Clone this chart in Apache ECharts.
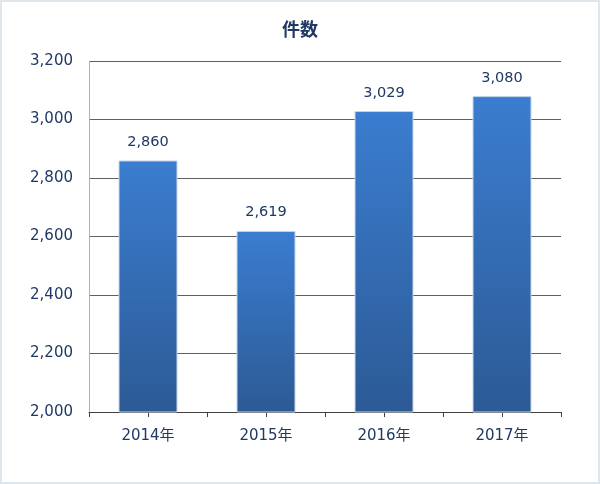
<!DOCTYPE html>
<html><head><meta charset="utf-8">
<script src="https://cdn.jsdelivr.net/npm/echarts@6/dist/echarts.min.js"></script>
<style>html,body{margin:0;padding:0;background:#fff}
#wrap{position:absolute;left:0;top:0;width:596px;height:480px;border:2px solid #dfe6ec}
#c{width:596px;height:480px}</style>
</head><body><div id="wrap"><div id="c"></div></div>
<script>
const categories = ['2014年','2015年','2016年','2017年'];
const values = [2860, 2619, 3029, 3080];
const halfTicks = ['','','','','','','',''];
const FONT = '"DejaVu Sans","Noto Sans CJK JP",sans-serif';
const TXT = '#1f3864';
const chart = echarts.init(document.getElementById('c'));
chart.setOption({
  animation:false,
  title:{text:'件数',left:'center',top:13,textStyle:{fontFamily:'"Noto Sans CJK JP",sans-serif',fontSize:18,fontWeight:'bold',color:TXT}},
  grid:{left:87,right:37,top:59,bottom:70},
  xAxis:[{
    type:'category',data:categories,
    axisLine:{show:true,lineStyle:{color:'#404040',width:1}},
    axisTick:{show:false},
    axisLabel:{fontFamily:FONT,fontSize:15,color:TXT,margin:17}
  },{
    type:'category',data:halfTicks,position:'bottom',
    axisLine:{show:false},
    axisTick:{show:true,length:5,lineStyle:{color:'#404040'}},
    axisLabel:{show:false}
  }],
  yAxis:{
    type:'value',min:2000,max:3200,interval:200,
    axisLine:{show:true,lineStyle:{color:'#9fb6cc'}},
    axisTick:{show:false},
    splitLine:{lineStyle:{color:'#606060',width:1}},
    axisLabel:{fontFamily:FONT,fontSize:15,color:TXT,margin:16,
      formatter:v=>v.toLocaleString('en-US')}
  },
  series:[{
    type:'bar',data:values,barWidth:'50%',xAxisIndex:0,
    itemStyle:{
      color:new echarts.graphic.LinearGradient(0,0,0,1,[{offset:0,color:'#3b7dd0'},{offset:1,color:'#2c5a95'}]),
      borderColor:'#c6d6ea',borderWidth:1
    },
    label:{show:true,position:'top',distance:11,fontFamily:FONT,fontSize:14.5,color:TXT,
      formatter:p=>p.value.toLocaleString('en-US')}
  }]
});
</script></body></html>
